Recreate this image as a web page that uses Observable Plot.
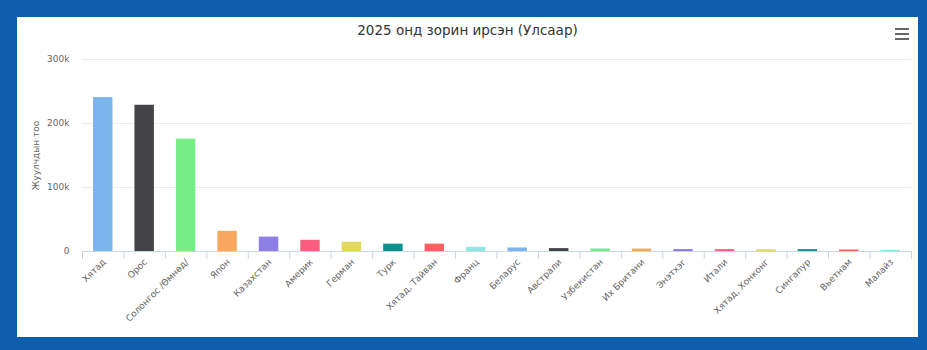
<!DOCTYPE html>
<html><head><meta charset="utf-8">
<script src="https://cdn.jsdelivr.net/npm/d3@7"></script>
<script src="https://cdn.jsdelivr.net/npm/@observablehq/plot@0.6"></script>
<style>
html,body{margin:0;padding:0;background:#0d5fae;width:927px;height:350px;overflow:hidden;font-family:"DejaVu Sans",sans-serif}
#panel{position:absolute;left:17px;top:17px;width:901px;height:320px;background:#fff}
#title{position:absolute;left:0;top:5px;width:901px;text-align:center;font-size:13.5px;line-height:16px;color:#333}
.menu{position:absolute;left:878px;width:14px;height:2px;background:#666}
#chart{position:absolute;left:0;top:0}
</style></head><body>
<div id="panel">
<div id="chart"></div>
<div id="title">2025 онд зорин ирсэн (Улсаар)</div>
<div class="menu" style="top:11px"></div>
<div class="menu" style="top:16px"></div>
<div class="menu" style="top:20.5px"></div>
</div>
<script>
const categories = ["Хятад", "Орос", "Солонгос /Өмнөд/", "Япон", "Казахстан", "Америк", "Герман", "Турк", "Хятад, Тайван", "Франц", "Беларус", "Австрали", "Узбекистан", "Их Британи", "Энэтхэг", "Итали", "Хятад, Хонконг", "Сингапур", "Вьетнам", "Малайз"];
const values = [240500, 228500, 175500, 31500, 22500, 17500, 14500, 11500, 11500, 6500, 5500, 4500, 4000, 3800, 3000, 3000, 2800, 2800, 2300, 1800];
const palette = ["#7cb5ec", "#434348", "#77ed85", "#f9a75f", "#8c7ee6", "#fc5d80", "#e3d75d", "#0a9189", "#fd6060", "#8be9e1"];
const yTicks = [0, 100000, 200000, 300000];
const yTickLabels = ["0", "100k", "200k", "300k"];
const yTitle = "Жуулчдын тоо";

const data = categories.map((c, i) => ({country: c, value: values[i]}));

const W = 901, H = 320, ML = 65, MR = 7, MT = 42, MB = 86;
const step = (W - ML - MR) / categories.length;

const chart = Plot.plot({
  width: W, height: H,
  marginLeft: ML, marginRight: MR, marginTop: MT, marginBottom: MB,
  style: {fontFamily: "DejaVu Sans", fontSize: "9px", background: "transparent", overflow: "visible"},
  x: {type: "band", domain: categories, paddingInner: 0, paddingOuter: 0, align: 0.5, round: false, axis: null, label: null},
  y: {domain: [0, 300000], axis: null},
  color: {domain: categories, range: categories.map((_, i) => palette[i % palette.length])},
  marks: [
    Plot.gridY(yTicks.slice(1), {stroke: "#ececec", strokeOpacity: 1}),
    Plot.barY(data, {x: "country", y: "value", fill: "country", insetLeft: 11, insetRight: 11}),
    Plot.ruleY([0], {stroke: "#ccd6eb"}),
    Plot.axisX({tickSize: 8, tickFormat: () => "", stroke: "#ccd6eb", strokeOpacity: 1, dx: -step / 2, label: null}),
    Plot.axisX([categories[categories.length - 1]], {tickSize: 8, tickFormat: () => "", stroke: "#ccd6eb", strokeOpacity: 1, dx: step / 2, label: null}),
    Plot.axisX({tickSize: 0, tickPadding: 9, tickRotate: -45, textAnchor: "end", color: "#666", fontSize: 9, dx: 1, label: null}),
    Plot.axisY(yTicks, {tickSize: 0, tickPadding: 13, tickFormat: (d) => yTickLabels[yTicks.indexOf(d)], color: "#666", fontSize: 9,
      label: yTitle, labelAnchor: "center", labelOffset: 50, labelArrow: "none"})
  ]
});
document.getElementById("chart").appendChild(chart);
</script>
</body></html>
